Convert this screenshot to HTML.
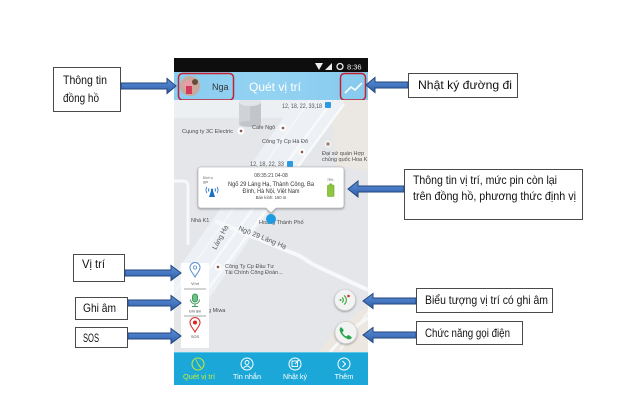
<!DOCTYPE html>
<html><head><meta charset="utf-8"><style>
html,body{margin:0;padding:0;background:#fff;}
svg{display:block;font-family:"Liberation Sans",sans-serif;}
</style></head><body>
<svg width="640" height="404" viewBox="0 0 640 404" xmlns="http://www.w3.org/2000/svg">
<defs>
<linearGradient id="ag" x1="0" y1="0" x2="0" y2="1"><stop offset="0" stop-color="#5f92d8"/><stop offset="0.5" stop-color="#4677c2"/><stop offset="1" stop-color="#2f5ea6"/></linearGradient>
<linearGradient id="hd" x1="0" y1="0" x2="1" y2="0"><stop offset="0" stop-color="#8acdf0"/><stop offset="0.5" stop-color="#94d2f2"/><stop offset="1" stop-color="#86caee"/></linearGradient>
<clipPath id="mc"><rect x="174" y="100" width="194" height="252"/></clipPath>
<filter id="sh" x="-20%" y="-20%" width="140%" height="160%"><feDropShadow dx="0" dy="1" stdDeviation="1" flood-color="#000" flood-opacity="0.35"/></filter>
</defs>

<!-- status bar -->
<rect x="174" y="58" width="194" height="14" fill="#0e0e0e"/>
<polygon points="315,63 323,63 319,70" fill="#eee"/>
<polygon points="325,70 332,70 332,63" fill="#eee"/>
<circle cx="340" cy="66.5" r="3" fill="none" stroke="#eee" stroke-width="1.3"/>
<text x="347" y="69.5" font-size="7.5" fill="#eee">8:36</text>

<!-- header -->
<rect x="174" y="72" width="194" height="28" fill="url(#hd)"/>
<circle cx="190" cy="86" r="10" fill="#c8a99b"/>
<circle cx="188" cy="85" r="5" fill="#e2a0a8"/>
<rect x="186" y="86" width="6" height="8" fill="#d23c5a"/>
<circle cx="195" cy="82" r="3" fill="#6b4a3a"/>
<text x="212" y="90" font-size="9" fill="#333">Nga</text>
<text x="249" y="91" font-size="12" fill="#fff">Quét vị trí</text>
<polyline points="345,93 351,87 355,90 362,83" fill="none" stroke="#fff" stroke-width="1.6"/>
<rect x="178.5" y="73.5" width="55" height="26.5" rx="4" fill="none" stroke="#c42030" stroke-width="1.5"/>
<rect x="340.5" y="73.5" width="25" height="26.5" rx="4" fill="none" stroke="#c42030" stroke-width="1.5"/>

<!-- map -->
<g clip-path="url(#mc)">
<rect x="174" y="100" width="194" height="252" fill="#e4e6e9"/>
<polygon points="174,100 335,100 330,118 174,118" fill="#edf0f3"/>
<polygon points="330,100 368,100 368,172 336,165" fill="#ebe8e3"/>
<polygon points="335,330 368,305 368,352 318,352" fill="#ece8e1"/>
<polygon points="296,100 345,100 208,300 174,300 174,275" fill="#edf1f5"/>
<line x1="330" y1="104" x2="186" y2="300" stroke="#f8f9fa" stroke-width="2.5"/>
<line x1="344" y1="104" x2="200" y2="300" stroke="#f8f9fa" stroke-width="2.5"/>
<line x1="310" y1="100" x2="176" y2="290" stroke="#f5f7f9" stroke-width="1.5"/>
<path d="M174,181 H183 Q188,181 188,187 V245" fill="none" stroke="#f7f8f9" stroke-width="3"/>
<polyline points="215,221 300,256 314,265 368,290" fill="none" stroke="#f7f8f9" stroke-width="4"/>
<polyline points="330,352 350,330 368,318" fill="none" stroke="#f7f8f9" stroke-width="3"/>
<polyline points="370,310 340,350" fill="none" stroke="#f4f5f6" stroke-width="2"/>
<rect x="239" y="102" width="22" height="22" fill="#cfd3d7"/>
<rect x="250" y="102" width="11" height="22" fill="#c2c6cb"/>
<ellipse cx="250" cy="124" rx="11" ry="3" fill="#c2c6cb"/>
<ellipse cx="250" cy="102" rx="11" ry="4" fill="#e2e5e8"/>
<text x="282" y="108" font-size="6" fill="#555" textLength="40" lengthAdjust="spacingAndGlyphs">12, 18, 22, 33,18</text>
<rect x="325" y="102" width="6" height="6" rx="1" fill="#2a9be0"/>
<text x="182" y="133" font-size="5.5" fill="#4d4d4d" textLength="51" lengthAdjust="spacingAndGlyphs">Cɥung ty 3C Electric</text>
<circle cx="241" cy="131" r="3.6" fill="#fff"/><rect x="239.8" y="129.8" width="2.4" height="2.4" fill="#8a5a50"/>
<text x="252" y="129" font-size="5.5" fill="#4d4d4d">Cafe Ngô</text>
<circle cx="283" cy="128" r="3.6" fill="#fff"/><rect x="281.8" y="126.8" width="2.4" height="2.4" fill="#8a5a50"/>
<text x="262" y="143" font-size="5.5" fill="#4d4d4d" textLength="46" lengthAdjust="spacingAndGlyphs">Công Ty Cp Hà Đô</text>
<circle cx="302" cy="152" r="3.6" fill="#fff"/><rect x="300.8" y="150.8" width="2.4" height="2.4" fill="#8a5a50"/>
<circle cx="328" cy="144" r="3.6" fill="#f4f4f4"/><rect x="326.5" y="142.5" width="3" height="3" fill="#9a7a6a"/>
<text x="322" y="155" font-size="5.5" fill="#4d4d4d">Đại sứ quán Hợp</text>
<text x="322" y="161" font-size="5.5" fill="#4d4d4d">chủng quốc Hoa K</text>
<text x="250" y="166" font-size="6" fill="#555" textLength="34" lengthAdjust="spacingAndGlyphs">12, 18, 22, 33</text>
<rect x="287" y="161" width="6" height="6" rx="1" fill="#2a9be0"/>
<text x="191" y="222" font-size="5.5" fill="#4d4d4d">Nhà K1</text>
<text x="259" y="224" font-size="5.5" fill="#4d4d4d">Hoàng Thành Phố</text>
<text x="0" y="0" font-size="7" fill="#5a5a5a" transform="translate(216,250) rotate(-62)">Láng Hạ</text>
<text x="0" y="0" font-size="7" fill="#5a5a5a" transform="translate(238,230) rotate(22)">Ngõ 29 Láng Hạ</text>
<circle cx="218" cy="267" r="3.6" fill="#fff"/><rect x="216.8" y="265.8" width="2.4" height="2.4" fill="#8a5a50"/>
<text x="225" y="268" font-size="5.5" fill="#4d4d4d">Công Ty Cp Đầu Tư</text>
<text x="225" y="274" font-size="5.5" fill="#4d4d4d">Tài Chính Công Đoàn...</text>
<text x="205" y="312" font-size="5.5" fill="#4d4d4d">ng Miwa</text>
</g>

<!-- callout -->
<g filter="url(#sh)">
<path d="M201,167 H341 Q344,167 344,170 V205 Q344,208 341,208 H276 L271,213 L266,208 H201 Q198,208 198,205 V170 Q198,167 201,167 Z" fill="#fff" stroke="#a8a8a8" stroke-width="0.6"/>
</g>
<circle cx="271" cy="219" r="5" fill="#1e9be0"/>
<text x="271" y="177" font-size="5" fill="#444" text-anchor="middle">08:35:21 04-08</text>
<text x="271" y="186" font-size="6" fill="#333" text-anchor="middle" textLength="86" lengthAdjust="spacingAndGlyphs">Ngõ 29 Láng Hạ, Thành Công, Ba</text>
<text x="271" y="193" font-size="6" fill="#333" text-anchor="middle" textLength="57" lengthAdjust="spacingAndGlyphs">Đình, Hà Nội, Việt Nam</text>
<text x="271" y="199" font-size="4.2" fill="#444" text-anchor="middle">Bán kính: 150 m</text>
<text x="203" y="179" font-size="3.2" fill="#666">Định vị</text>
<text x="203" y="183" font-size="3.2" fill="#666">gps</text>
<polygon points="212,188 209,197 215,197" fill="#1f6fc0"/>
<path d="M207,187 A5,5 0 0 0 207,193 M217,187 A5,5 0 0 1 217,193 M209,188.5 A3,3 0 0 0 209,191.5 M215,188.5 A3,3 0 0 1 215,191.5" fill="none" stroke="#1f6fc0" stroke-width="0.9"/>
<circle cx="212" cy="190" r="1.2" fill="#1f6fc0"/>
<text x="327" y="181" font-size="3.2" fill="#666">78%</text>
<rect x="329.5" y="183.5" width="2.5" height="1.5" fill="#7ab83a"/>
<rect x="327.5" y="185" width="6.5" height="11.5" rx="0.8" fill="#8ec63f" stroke="#6aa52a" stroke-width="0.6"/>

<!-- side panel -->
<rect x="181" y="263" width="28" height="85" fill="#fff"/>
<path d="M195,277 C193,273 190,271 190,267.5 A5,5 0 1 1 200,267.5 C200,271 197,273 195,277Z" fill="none" stroke="#5b8ed0" stroke-width="1"/>
<circle cx="195" cy="267.5" r="1.6" fill="none" stroke="#5b8ed0" stroke-width="0.8"/>
<text x="195" y="285" font-size="3.8" fill="#444" text-anchor="middle">Vị trí</text>
<line x1="184" y1="289" x2="206" y2="289" stroke="#8a8a8a" stroke-width="0.8"/>
<rect x="192.5" y="294" width="5" height="8" rx="2.5" fill="#6fbf86" stroke="#3f9a5e" stroke-width="1"/>
<path d="M190.5,299.5 A4.5,4.5 0 0 0 199.5,299.5 M195,304 V306.5 M192,306.5 H198" fill="none" stroke="#3f9a5e" stroke-width="1"/>
<text x="195" y="312.5" font-size="3.8" fill="#444" text-anchor="middle">Ghi âm</text>
<line x1="184" y1="316" x2="206" y2="316" stroke="#8a8a8a" stroke-width="0.8"/>
<path d="M195,332 C193,328 190,326 190,322.5 A5,5 0 1 1 200,322.5 C200,326 197,328 195,332Z" fill="none" stroke="#e03030" stroke-width="1.1"/>
<circle cx="195" cy="322.5" r="2" fill="#e02020"/>
<text x="195" y="338" font-size="3.8" fill="#444" text-anchor="middle">SOS</text>

<!-- round buttons -->
<g filter="url(#sh)">
<circle cx="345" cy="300" r="10.5" fill="#f3f3f3" stroke="#c8c8c8" stroke-width="0.6"/>
<circle cx="346" cy="332.5" r="11" fill="#f3f3f3" stroke="#c8c8c8" stroke-width="0.6"/>
</g>
<path d="M342,297.5 A3,3 0 0 1 342,302.5 M344,295.5 A5.5,5.5 0 0 1 344,304.5" fill="none" stroke="#3da83d" stroke-width="1.1"/>
<circle cx="340.5" cy="300" r="1" fill="#3da83d"/>
<circle cx="348.5" cy="296" r="1.3" fill="#e02a2a"/>
<path d="M341,327 q-2,1.5 -1,4.5 q2,5 7.5,7.5 q3,1 4.5,-1.2 l-2.5,-2.3 q-1,-0.8 -2,0 l-1,1 q-3,-1.2 -4.3,-4.3 l1,-1 q0.8,-1 0,-2 z" fill="#22a548"/>

<!-- bottom nav -->
<rect x="174" y="352" width="194" height="33" fill="#1ba8d8"/>
<line x1="174" y1="352.5" x2="368" y2="352.5" stroke="#5cc4e6" stroke-width="1"/>
<circle cx="198" cy="364" r="6" fill="none" stroke="#bde63c" stroke-width="1.1"/>
<line x1="198" y1="364" x2="201" y2="368" stroke="#bde63c" stroke-width="1.1"/>
<line x1="198" y1="364" x2="196" y2="359.5" stroke="#bde63c" stroke-width="0.8"/>
<circle cx="247" cy="364" r="6" fill="none" stroke="#fff" stroke-width="1"/>
<circle cx="247" cy="362.5" r="2" fill="none" stroke="#fff" stroke-width="0.9"/>
<path d="M243.5,368 Q247,364 250.5,368" fill="none" stroke="#fff" stroke-width="0.9"/>
<circle cx="295" cy="364" r="6" fill="none" stroke="#fff" stroke-width="1"/>
<rect x="292" y="361" width="5.5" height="5.5" fill="none" stroke="#fff" stroke-width="0.9"/>
<line x1="295" y1="364" x2="299" y2="360" stroke="#fff" stroke-width="0.9"/>
<circle cx="344" cy="364" r="6" fill="none" stroke="#fff" stroke-width="1"/>
<polyline points="342.5,361 345.5,364 342.5,367" fill="none" stroke="#fff" stroke-width="1"/>
<text x="199" y="379" font-size="7.5" fill="#c3ee3a" text-anchor="middle" textLength="32" lengthAdjust="spacingAndGlyphs">Quét vị trí</text>
<text x="247" y="379" font-size="7.5" fill="#fff" text-anchor="middle" textLength="28" lengthAdjust="spacingAndGlyphs">Tin nhắn</text>
<text x="295" y="379" font-size="7.5" fill="#fff" text-anchor="middle" textLength="24" lengthAdjust="spacingAndGlyphs">Nhật ký</text>
<text x="344" y="379" font-size="7.5" fill="#fff" text-anchor="middle" textLength="19" lengthAdjust="spacingAndGlyphs">Thêm</text>

<!-- label boxes -->
<g fill="#fff" stroke="#4a4a4a" stroke-width="1">
<rect x="53.5" y="67.5" width="67" height="44"/>
<rect x="408.5" y="73.5" width="109" height="24"/>
<rect x="404.5" y="169.5" width="178" height="50"/>
<rect x="73.5" y="254.5" width="51" height="27"/>
<rect x="75.5" y="297.5" width="52" height="22"/>
<rect x="75.5" y="327.5" width="52" height="20"/>
<rect x="416.5" y="288.5" width="136" height="24"/>
<rect x="416.5" y="321.5" width="106" height="23"/>
</g>
<g font-size="12" fill="#111">
<text x="63" y="84" textLength="44" lengthAdjust="spacingAndGlyphs">Thông tin</text>
<text x="63" y="102" textLength="36" lengthAdjust="spacingAndGlyphs">đồng hồ</text>
<text x="418" y="89" textLength="94" lengthAdjust="spacingAndGlyphs">Nhật ký đường đi</text>
<text x="413" y="184" textLength="144" lengthAdjust="spacingAndGlyphs">Thông tin vị trí, mức pin còn lại</text>
<text x="413" y="200" textLength="163" lengthAdjust="spacingAndGlyphs">trên đồng hồ, phương thức định vị</text>
<text x="82" y="268" textLength="23" lengthAdjust="spacingAndGlyphs">Vị trí</text>
<text x="83" y="312" textLength="33" lengthAdjust="spacingAndGlyphs">Ghi âm</text>
<text x="83" y="342" textLength="16" lengthAdjust="spacingAndGlyphs">SOS</text>
<text x="425" y="304" textLength="123" lengthAdjust="spacingAndGlyphs">Biểu tượng vị trí có ghi âm</text>
<text x="425" y="337" textLength="85" lengthAdjust="spacingAndGlyphs">Chức năng gọi điện</text>
</g>

<!-- arrows -->
<g fill="url(#ag)" stroke="#23467c" stroke-width="1" stroke-linejoin="miter">
<polygon points="121,83 167,83 167,78.5 176,86 167,93.5 167,89 121,89"/>
<polygon points="408,82 375,82 375,77.5 366,85 375,92.5 375,88 408,88"/>
<polygon points="404,186 358,186 358,181 348,189 358,197 358,192 404,192"/>
<polygon points="125,270 171,270 171,265.5 181,273 171,280.5 171,276 125,276"/>
<polygon points="128,300 171,300 171,295.5 181,303 171,310.5 171,306 128,306"/>
<polygon points="128,333 171,333 171,328.5 181,336 171,343.5 171,339 128,339"/>
<polygon points="416,298 373,298 373,293.5 363,301 373,308.5 373,304 416,304"/>
<polygon points="416,332 373,332 373,327.5 363,335 373,342.5 373,338 416,338"/>
</g>
</svg>
</body></html>
